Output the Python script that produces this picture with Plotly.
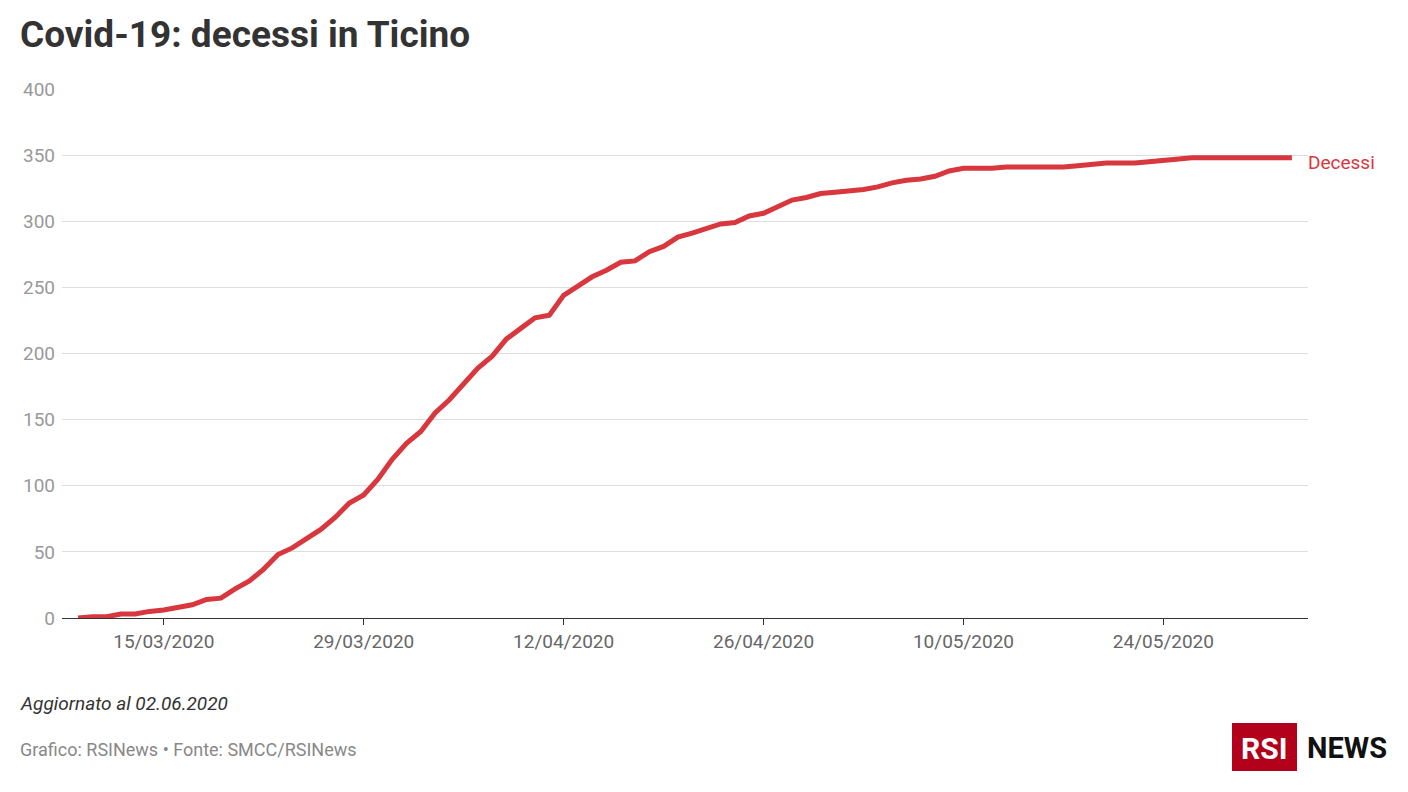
import pandas as pd
import plotly.graph_objects as go

# daily deaths, cumulative, Ticino
start_date = "2020-03-09"
decessi = [0, 1, 1, 3, 3, 5, 6, 8, 10, 14, 15, 22, 28, 37, 48, 53, 60, 67, 76, 87,
           93, 105, 120, 132, 141, 155, 165, 177, 189, 198, 211, 219, 227, 229, 244,
           251, 258, 263, 269, 270, 277, 281, 288, 291, 295, 298, 299, 304, 306, 311,
           316, 318, 321, 322, 323, 324, 326, 329, 331, 332, 334, 338, 340, 340, 340,
           341, 341, 341, 341, 341, 342, 343, 344, 344, 344, 345, 346, 347, 348, 348,
           348, 348, 348, 348, 348, 348]
dates = pd.date_range(start_date, periods=len(decessi), freq="D")
tick_vals = ["2020-03-15", "2020-03-29", "2020-04-12", "2020-04-26", "2020-05-10", "2020-05-24"]

red = "#d8373e"
grey = "#999999"

# page has an 8px body margin, so layout is shifted by -8px
OFF = 8
L, T, R, B = 62 - OFF, 89 - OFF, 1308 - OFF, 618 - OFF

fig = go.Figure()
fig.add_trace(go.Scatter(x=dates, y=decessi, mode="lines",
                         line=dict(color=red, width=5), hoverinfo="x+y"))

fig.update_layout(
    width=1408, height=792,
    paper_bgcolor="white", plot_bgcolor="white",
    margin=dict(l=L, r=1408 - R, t=T, b=792 - B, autoexpand=False),
    showlegend=False,
    font=dict(family="Roboto, sans-serif", color="#333333"),
    xaxis=dict(range=["2020-03-07 21:00", "2020-06-03 03:00"],
               tickvals=tick_vals, tickformat="%d/%m/%Y",
               showgrid=False, showline=True, linecolor="#333333",
               ticks="outside", ticklen=6, tickcolor="#333333",
               tickfont=dict(size=19, color="#666666")),
    yaxis=dict(range=[0, 400], tickvals=[0, 50, 100, 150, 200, 250, 300, 350, 400],
               gridcolor="#dddddd", zeroline=False,
               tickfont=dict(size=19, color=grey), ticklabelstandoff=6),
)

def px(x, y):
    # screen pixel position -> paper coordinates
    return (x - OFF - L) / (R - L), (B - (y - OFF)) / (B - T)

tx, ty = px(18, 35)
fig.add_annotation(text="<b>Covid-19: decessi in Ticino</b>", xref="paper", yref="paper",
                   x=tx, y=ty, xanchor="left", yanchor="middle", showarrow=False,
                   font=dict(size=37, color="#333333"))
fig.add_annotation(text="Decessi", x=dates[-1], y=decessi[-1], xshift=14, yshift=-5,
                   xanchor="left", showarrow=False, font=dict(size=19, color=red))
ax_, ay_ = px(18, 703)
fig.add_annotation(text="<i>Aggiornato al 02.06.2020</i>", xref="paper", yref="paper",
                   x=ax_, y=ay_, xanchor="left", yanchor="middle", showarrow=False,
                   font=dict(size=19, color="#333333"))
gx, gy = px(18, 749)
fig.add_annotation(text="Grafico: RSINews • Fonte: SMCC/RSINews", xref="paper", yref="paper",
                   x=gx, y=gy, xanchor="left", yanchor="middle", showarrow=False,
                   font=dict(size=18, color="#888888"))

# logo
x0, y0 = px(1232, 771)
x1, y1 = px(1297, 723)
fig.add_shape(type="rect", xref="paper", yref="paper", x0=x0, x1=x1, y0=y0, y1=y1,
              fillcolor="#b3001b", line_width=0, layer="below")
rx, ry = px(1264, 748)
fig.add_annotation(text="<b>RSI</b>", xref="paper", yref="paper", x=rx, y=ry,
                   xanchor="center", yanchor="middle",
                   showarrow=False, font=dict(size=30, color="white"))
nx, ny = px(1305, 748)
fig.add_annotation(text="<b>NEWS</b>", xref="paper", yref="paper", x=nx, y=ny,
                   xanchor="left", yanchor="middle",
                   showarrow=False, font=dict(size=29, color="#111111"))

fig.write_html("out.html")
